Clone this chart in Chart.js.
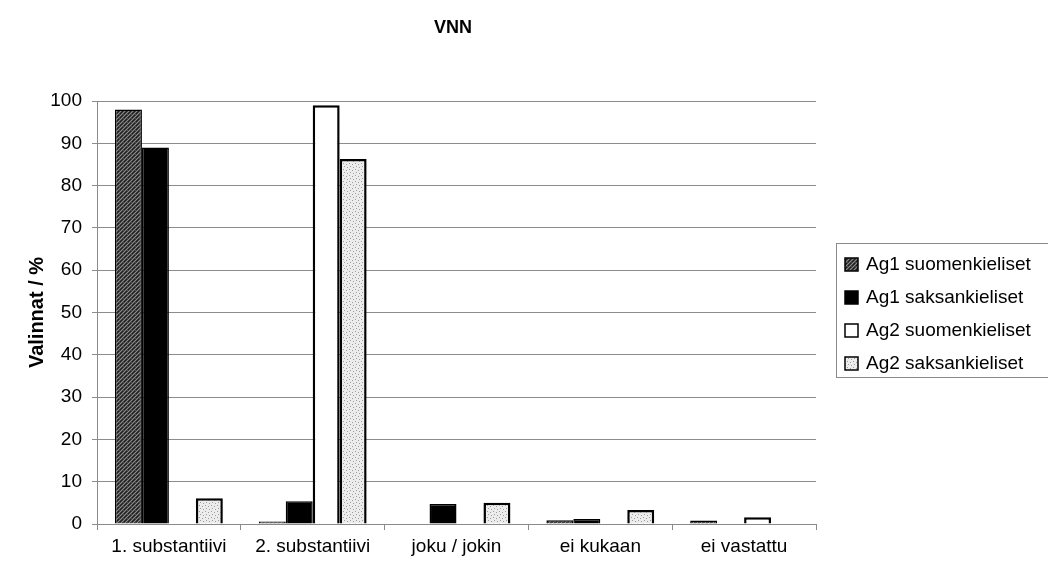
<!DOCTYPE html>
<html>
<head>
<meta charset="utf-8">
<script src="https://cdn.jsdelivr.net/npm/chart.js@4"></script>
<style>
  html, body { margin: 0; padding: 0; background: #fff; }
  #wrap { width: 1048px; height: 567px; position: relative; }
</style>
</head>
<body>
<div id="wrap"><canvas id="vnnChart" width="1048" height="567"></canvas></div>
<script>
const chartTitle = 'VNN';
const categories = ['1. substantiivi', '2. substantiivi', 'joku / jokin', 'ei kukaan', 'ei vastattu'];
const seriesNames = ['Ag1 suomenkieliset', 'Ag1 saksankieliset', 'Ag2 suomenkieliset', 'Ag2 saksankieliset'];
const ag1Suomi = [98, 0.6, 0, 0.9, 0.8];
const ag1Saksa = [89, 5.4, 4.7, 1.2, 0];
const ag2Suomi = [0, 99, 0, 0, 1.6];
const ag2Saksa = [6.1, 86.3, 5, 3.3, 0];
const yTicks = [0, 10, 20, 30, 40, 50, 60, 70, 80, 90, 100];

const FONT = '"Liberation Sans", Arial, sans-serif';

// small repeating fills for the two textured series
function hatchPattern() {
    const c = document.createElement('canvas');
    c.width = 4; c.height = 4;
    const g = c.getContext('2d');
    g.fillStyle = '#444';
    g.fillRect(0, 0, 4, 4);
    g.fillStyle = '#8a8a8a';
    g.fillRect(0, 3, 1, 1); g.fillRect(1, 2, 1, 1); g.fillRect(2, 1, 1, 1); g.fillRect(3, 0, 1, 1);
    g.fillStyle = '#1e1e1e';
    g.fillRect(0, 1, 1, 1); g.fillRect(2, 3, 1, 1); g.fillRect(1, 0, 1, 1);
    return g.createPattern(c, 'repeat');
}

function dotPattern() {
    const c = document.createElement('canvas');
    c.width = 6; c.height = 6;
    const g = c.getContext('2d');
    g.fillStyle = '#ececec';
    g.fillRect(0, 0, 6, 6);
    g.fillStyle = '#9c9c9c';
    g.fillRect(1, 1, 1, 1); g.fillRect(4, 2, 1, 1); g.fillRect(2, 4, 1, 1); g.fillRect(5, 5, 1, 1);
    return g.createPattern(c, 'repeat');
}

const fills = [hatchPattern(), '#000000', '#ffffff', dotPattern()];
const borders = [1.5, 1.5, 2.5, 2.5];
const seriesData = [ag1Suomi, ag1Saksa, ag2Suomi, ag2Saksa];

// title and framed legend drawn by hand
const decorations = {
    id: 'decorations',
    afterDraw(chart) {
        const ctx = chart.ctx;
        ctx.save();
        ctx.fillStyle = '#000';
        ctx.font = 'bold 18px ' + FONT;
        ctx.textAlign = 'center';
        ctx.textBaseline = 'middle';
        ctx.fillText(chartTitle, 453, 28);

        ctx.strokeStyle = '#8a8a8a';
        ctx.lineWidth = 1;
        ctx.strokeRect(836.5, 243.5, 230, 134);

        ctx.font = '19px ' + FONT;
        ctx.textAlign = 'left';
        chart.data.datasets.forEach((ds, i) => {
            const cy = 264 + i * 33;
            ctx.fillStyle = ds.backgroundColor;
            ctx.fillRect(845, cy - 6, 13, 13);
            ctx.strokeStyle = '#000';
            ctx.lineWidth = 1.5;
            ctx.strokeRect(845, cy - 6, 13, 13);
            ctx.fillStyle = '#000';
            ctx.fillText(ds.label, 866, cy + 1);
        });
        ctx.restore();
    }
};

const ctx = document.getElementById('vnnChart').getContext('2d');
new Chart(ctx, {
    type: 'bar',
    data: {
        labels: categories,
        datasets: seriesNames.map((name, i) => ({
            label: name,
            data: seriesData[i],
            backgroundColor: fills[i],
            borderColor: '#000',
            borderWidth: borders[i],
            categoryPercentage: 0.75,
            barPercentage: 1.0
        }))
    },
    options: {
        responsive: false,
        animation: false,
        layout: { padding: { top: 101, right: 232, bottom: 0, left: 0 } },
        plugins: {
            legend: { display: false },
            title: { display: false },
            tooltip: { enabled: false }
        },
        scales: {
            x: {
                afterFit(scale) { scale.height = 43; },
                grid: { drawOnChartArea: false, tickLength: 6, color: '#8a8a8a', offset: true },
                border: { color: '#8a8a8a' },
                ticks: { color: '#000', font: { family: FONT, size: 19 }, padding: 5, maxRotation: 0 }
            },
            y: {
                min: 0,
                max: 100,
                afterFit(scale) { scale.width = 97; },
                afterBuildTicks(scale) { scale.ticks = yTicks.map(v => ({ value: v })); },
                grid: { color: '#8c8c8c', tickLength: 5 },
                border: { color: '#8a8a8a' },
                ticks: { color: '#000', font: { family: FONT, size: 19 }, padding: 10 },
                title: {
                    display: true,
                    text: 'Valinnat / %',
                    color: '#000',
                    font: { family: FONT, size: 20, weight: 'bold' },
                    padding: { top: 25, bottom: 0 }
                }
            }
        }
    },
    plugins: [decorations]
});
</script>
</body>
</html>
